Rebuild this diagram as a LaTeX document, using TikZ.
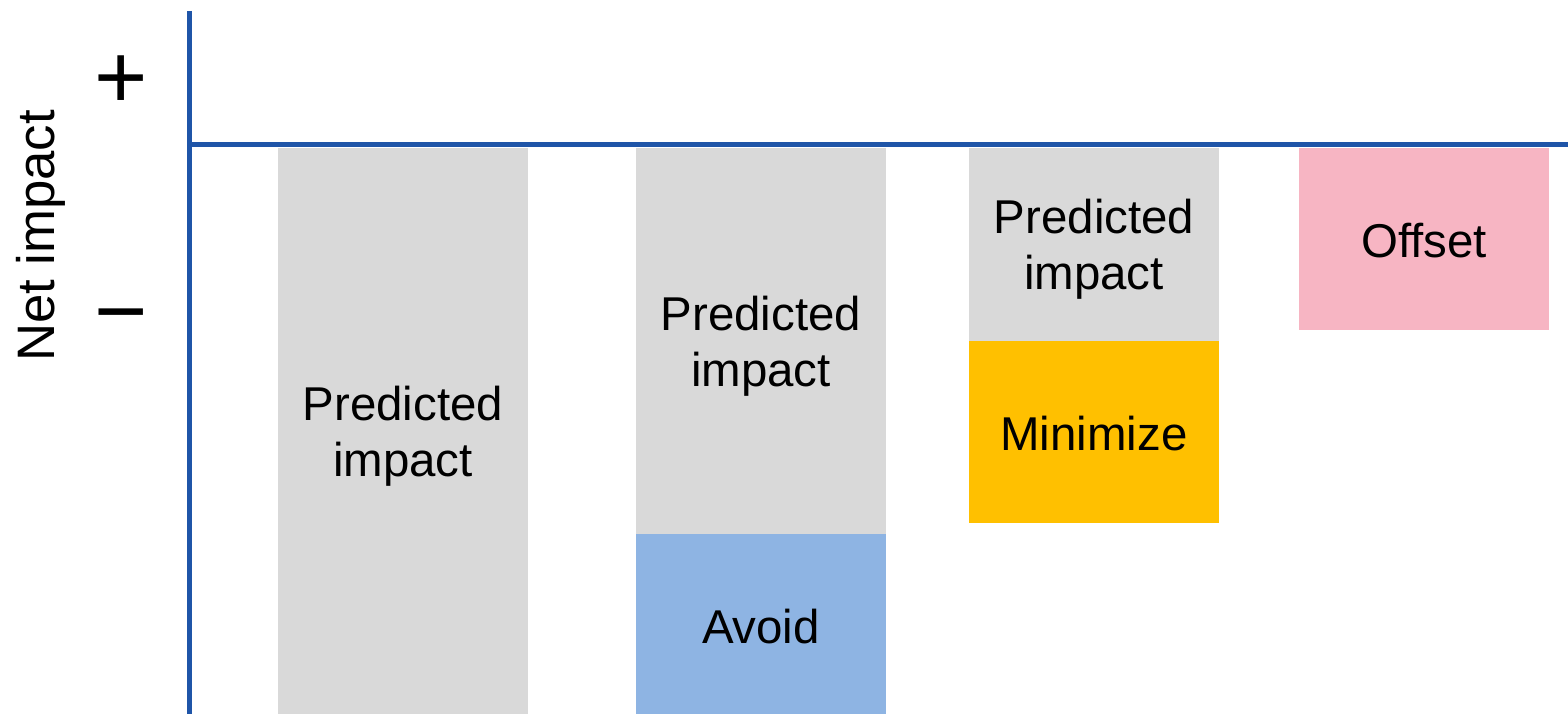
\documentclass[tikz,border=0pt]{standalone}
\usepackage{fontspec}
\setmainfont{Liberation Sans}
\usepackage{tikz}
\definecolor{axisblue}{HTML}{1F55A8}
\definecolor{predgray}{HTML}{D9D9D9}
\definecolor{avoidblue}{HTML}{8EB4E3}
\definecolor{minorange}{HTML}{FFC000}
\definecolor{offpink}{HTML}{F7B5C3}

\begin{document}
\begin{tikzpicture}[
    bar/.style={rectangle, inner sep=0pt, minimum width=2.5cm},
    txt/.style={inner sep=0pt, align=center, font=\fontsize{13.5}{15.8}\selectfont},
    axis/.style={axisblue, line width=1.7pt}]
    \useasboundingbox (0,0) rectangle (15.68,-7.14);

    % 坐标轴
    \coordinate (ytop) at (1.895,-0.11);
    \coordinate (ybot) at (1.895,-7.14);
    \coordinate (xleft) at (1.87,-1.445);
    \coordinate (xright) at (15.68,-1.445);
    \draw[axis] (ytop) -- (ybot);
    \draw[axis] (xleft) -- (xright);

    \node[font=\fontsize{15}{18}\selectfont, rotate=90] (netlbl) at (0.41,-2.36) {Net impact};
    \node[font=\fontsize{26}{30}\selectfont, inner sep=0pt] (plus) at (1.21,-0.82) {+};
    \node[font=\fontsize{26}{30}\selectfont, inner sep=0pt] (minus) at (1.21,-3.26) {−};

    % 柱
    \node[bar, fill=predgray, minimum height=5.66cm] (pred1) at (4.03,-4.31) {};
    \node[txt] (pred1txt) at ([yshift=-0.05cm]pred1.center) {Predicted\\impact};

    \node[bar, fill=predgray, minimum height=3.86cm] (pred2) at (7.61,-3.41) {};
    \node[txt] (pred2txt) at ([yshift=-0.05cm]pred2.center) {Predicted\\impact};
    \node[bar, fill=avoidblue, minimum height=1.80cm] (avoid) at (7.61,-6.24) {};
    \node[txt] (avoidtxt) at ([yshift=-0.025cm]avoid.center) {Avoid};

    \node[bar, fill=predgray, minimum height=1.93cm] (pred3) at (10.94,-2.445) {};
    \node[txt] (pred3txt) at ([yshift=-0.05cm]pred3.center) {Predicted\\impact};
    \node[bar, fill=minorange, minimum height=1.82cm] (minimize) at (10.94,-4.32) {};
    \node[txt] (minimizetxt) at ([yshift=-0.015cm]minimize.center) {Minimize};

    \node[bar, fill=offpink, minimum height=1.82cm] (offset) at (14.24,-2.39) {};
    \node[txt] (offsettxt) at ([yshift=-0.015cm]offset.center) {Offset};
\end{tikzpicture}
\end{document}
